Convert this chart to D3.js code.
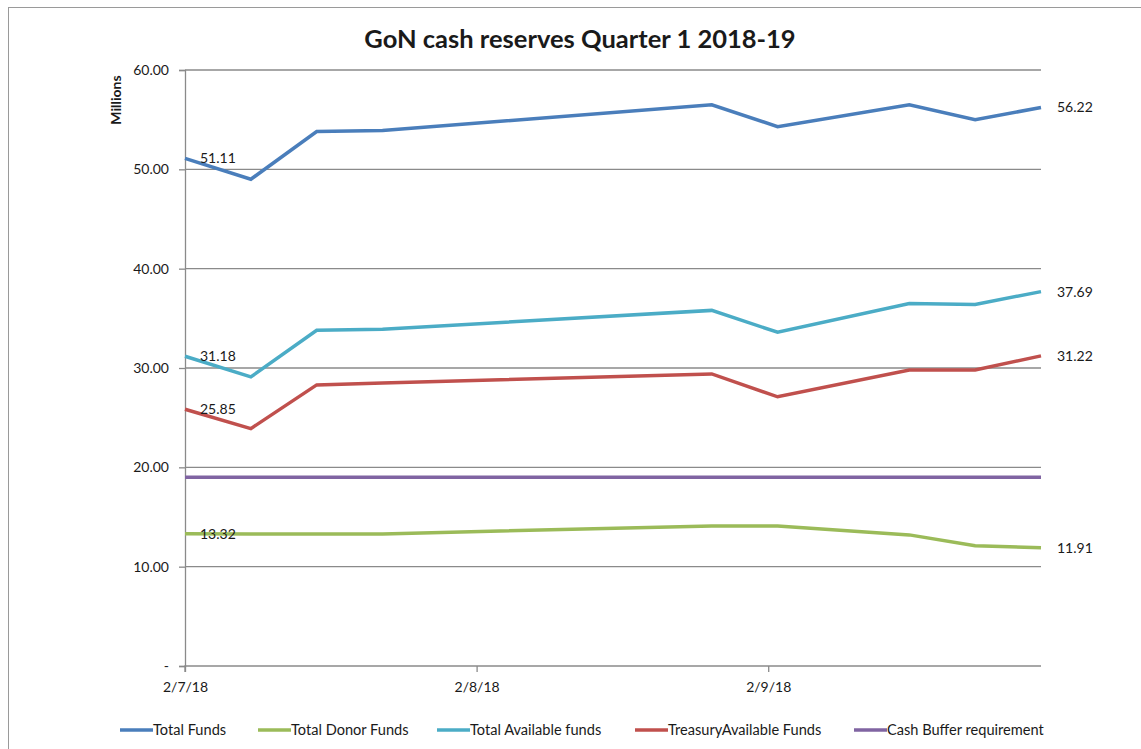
<!DOCTYPE html>
<html>
<head>
<meta charset="utf-8">
<script src="https://cdn.jsdelivr.net/npm/d3@7"></script>
<style>
  html, body { margin: 0; padding: 0; background: #fff; }
  svg { display: block; }
  text { font-family: Lato, "Open Sans", sans-serif; fill: #1a1a1a; }
</style>
</head>
<body>
<svg id="chart" width="1141" height="749"></svg>
<script>
// ---- Data ----
const title = "GoN cash reserves Quarter 1 2018-19";
const yAxisTitle = "Millions";
const dates = ["2018-07-02", "2018-07-09", "2018-07-16", "2018-07-23", "2018-08-27", "2018-09-03", "2018-09-17", "2018-09-24", "2018-10-01"];
const totalFunds      = [51.11, 49.0, 53.8, 53.9, 56.5, 54.3, 56.5, 55.0, 56.22];
const totalDonorFunds = [13.32, 13.3, 13.3, 13.3, 14.1, 14.1, 13.2, 12.1, 11.91];
const totalAvailable  = [31.18, 29.1, 33.8, 33.9, 35.8, 33.6, 36.5, 36.4, 37.69];
const treasuryAvail   = [25.85, 23.9, 28.3, 28.5, 29.4, 27.1, 29.8, 29.8, 31.22];
const cashBuffer      = [19.0, 19.0, 19.0, 19.0, 19.0, 19.0, 19.0, 19.0, 19.0];
const seriesNames = ["Total Funds", "Total Donor Funds", "Total Available funds", "TreasuryAvailable Funds", "Cash Buffer requirement"];
const seriesColors = ["#4A7EBB", "#9BBB59", "#4BACC6", "#C0504D", "#8064A2"];
const seriesLabeled = [true, true, true, true, false];
const yTicks = [0, 10, 20, 30, 40, 50, 60];
const xTickDates = ["2018-07-02", "2018-08-02", "2018-09-02"];
const xTickLabels = ["2/7/18", "2/8/18", "2/9/18"];

// ---- Setup ----
const parse = d3.utcParse("%Y-%m-%d");
const series = [totalFunds, totalDonorFunds, totalAvailable, treasuryAvail, cashBuffer].map((vals, i) => ({
  name: seriesNames[i], color: seriesColors[i], labeled: seriesLabeled[i],
  points: vals.map((v, j) => ({ date: parse(dates[j]), value: v }))
}));

const svg = d3.select("#chart");
const plot = { left: 185, right: 1041, top: 70, bottom: 666 };

// chart frame
svg.append("rect").attr("x", 8.5).attr("y", 7.5).attr("width", 1160).attr("height", 760)
  .attr("fill", "none").attr("stroke", "#9a9a9a").attr("stroke-width", 1);

const x = d3.scaleUtc().domain([parse("2018-07-02"), parse("2018-10-01")]).range([plot.left, plot.right]);
const y = d3.scaleLinear().domain([0, 60]).range([plot.bottom, plot.top]);

// gridlines
svg.append("g").selectAll("line").data(yTicks.filter(t => t > 0)).join("line")
  .attr("x1", plot.left).attr("x2", plot.right)
  .attr("y1", d => y(d)).attr("y2", d => y(d))
  .attr("stroke", "#8a8a8a").attr("stroke-width", 1.3);

// y axis
const yAxis = d3.axisLeft(y).tickValues(yTicks).tickSize(6).tickPadding(10)
  .tickFormat(d => d === 0 ? "-" : d3.format(".2f")(d));
const gy = svg.append("g").attr("transform", `translate(${plot.left},0)`).call(yAxis);
gy.select(".domain").attr("stroke", "#8a8a8a").attr("stroke-width", 1.3);
gy.selectAll(".tick line").attr("stroke", "#8a8a8a").attr("stroke-width", 1.3);
gy.selectAll(".tick text").style("font-size", "14px").attr("fill", "#1a1a1a")
  .style("font-family", "Lato, 'Open Sans', sans-serif");

// x axis
const xAxis = d3.axisBottom(x).tickValues(xTickDates.map(parse)).tickSize(6).tickPadding(10)
  .tickFormat((d, i) => xTickLabels[i]);
const gx = svg.append("g").attr("transform", `translate(0,${plot.bottom})`).call(xAxis);
gx.select(".domain").attr("stroke", "#8a8a8a").attr("stroke-width", 1.3).attr("d", `M${plot.left},6V0H${plot.right}`);
gx.selectAll(".tick line").attr("stroke", "#8a8a8a").attr("stroke-width", 1.3);
gx.selectAll(".tick text").style("font-size", "14px").attr("fill", "#1a1a1a")
  .style("font-family", "Lato, 'Open Sans', sans-serif");

// lines
const line = d3.line().x(d => x(d.date)).y(d => y(d.value));
svg.append("g").selectAll("path").data(series).join("path")
  .attr("d", d => line(d.points))
  .attr("fill", "none").attr("stroke", d => d.color)
  .attr("stroke-width", 3.5).attr("stroke-linejoin", "miter").attr("stroke-linecap", "butt");

// data labels
const labeled = series.filter(s => s.labeled);
const lg = svg.append("g").style("font-size", "14px");
labeled.forEach(s => {
  const f = s.points[0], l = s.points[s.points.length - 1];
  lg.append("text").attr("x", x(f.date) + 15).attr("y", y(f.value)).attr("dy", "0.35em")
    .text(d3.format(".2f")(f.value));
  lg.append("text").attr("x", x(l.date) + 16).attr("y", y(l.value)).attr("dy", "0.35em")
    .text(d3.format(".2f")(l.value));
});

// title
svg.append("text").attr("x", 580).attr("y", 48).attr("text-anchor", "middle")
  .style("font-size", "25.5px").style("font-weight", "bold").text(title);

// y axis title
svg.append("text").attr("transform", `translate(121,100) rotate(-90)`).attr("text-anchor", "middle")
  .style("font-size", "14px").style("font-weight", "bold").text(yAxisTitle);

// legend
const legendX = [120, 258, 437, 635, 854];
const leg = svg.append("g").selectAll("g").data(series).join("g")
  .attr("transform", (d, i) => `translate(${legendX[i]},730)`);
leg.append("line").attr("x1", 0).attr("x2", 33).attr("y1", 0).attr("y2", 0)
  .attr("stroke", d => d.color).attr("stroke-width", 3.5);
leg.append("text").attr("x", 33).attr("y", 0).attr("dy", "0.35em")
  .style("font-size", "14.6px").text(d => d.name);
</script>
</body>
</html>
